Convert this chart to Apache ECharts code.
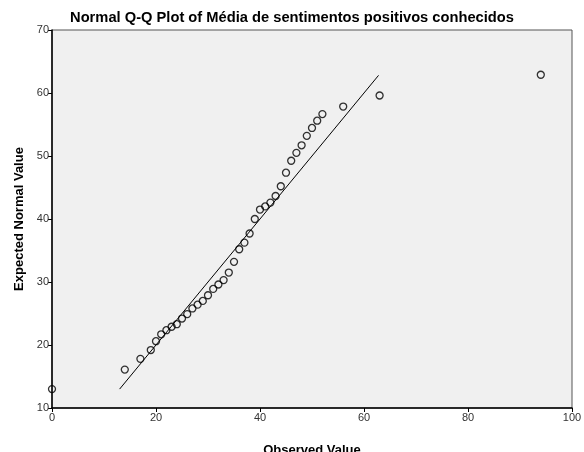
<!DOCTYPE html>
<html>
<head>
<meta charset="utf-8">
<script src="https://cdn.jsdelivr.net/npm/echarts@6/dist/echarts.min.js"></script>
<style>
html,body{margin:0;padding:0;background:#fff;}
#c{width:584px;height:452px;}
</style>
</head>
<body>
<div id="c"></div>
<script>
var observed = [0,14,17,19,20,21,22,23,24,25,26,27,28,29,30,31,32,33,34,35,36,37,38,39,40,41,42,43,44,45,46,47,48,49,50,51,52,56,63,94];
var expected = [13.0,16.1,17.8,19.2,20.6,21.7,22.35,22.9,23.3,24.2,24.9,25.8,26.4,27.0,27.9,28.9,29.6,30.3,31.5,33.2,35.2,36.25,37.7,40.0,41.5,42.0,42.6,43.65,45.2,47.35,49.25,50.5,51.7,53.2,54.45,55.6,56.65,57.85,59.6,62.9];
var refLineX = [13.0, 62.8];
var refLineY = [13.0, 62.8];
var xTicks = [0,20,40,60,80,100];
var yTicks = [10,20,30,40,50,60,70];

var font = 'Liberation Sans, Arial, sans-serif';
var pts = observed.map(function(v,i){return [v, expected[i]];});
var line = refLineX.map(function(v,i){return [v, refLineY[i]];});

var chart = echarts.init(document.getElementById('c'), null, {renderer:'canvas'});
chart.setOption({
  animation:false,
  backgroundColor:'#ffffff',
  title:{
    text:'Normal Q-Q Plot of Média de sentimentos positivos conhecidos',
    left:'center', top:5,
    textStyle:{fontFamily:font, fontSize:14.7, fontWeight:'bold', color:'#000'}
  },
  grid:{left:52, right:12, top:30, bottom:44, show:true, backgroundColor:'#f0f0f0', borderColor:'#555', borderWidth:1, containLabel:false, outerBoundsMode:'none'},
  xAxis:{
    type:'value', min:xTicks[0], max:xTicks[xTicks.length-1], interval:20,
    name:'Observed Value', nameLocation:'middle', nameGap:36,
    nameTextStyle:{fontFamily:font, fontSize:13, fontWeight:'bold', color:'#000'},
    axisLine:{show:true, lineStyle:{color:'#000', width:1.5}},
    axisTick:{show:true, length:4, lineStyle:{color:'#000'}},
    axisLabel:{fontFamily:font, fontSize:11, color:'#333', margin:4},
    splitLine:{show:false}
  },
  yAxis:{
    type:'value', min:yTicks[0], max:yTicks[yTicks.length-1], interval:10,
    name:'Expected Normal Value', nameLocation:'middle', nameGap:23,
    nameTextStyle:{fontFamily:font, fontSize:13, fontWeight:'bold', color:'#000'},
    axisLine:{show:true, lineStyle:{color:'#000', width:1.5}},
    axisTick:{show:true, length:4, lineStyle:{color:'#000'}},
    axisLabel:{fontFamily:font, fontSize:11, color:'#333', margin:3},
    splitLine:{show:false}
  },
  series:[
    {type:'line', data:line, symbol:'none', lineStyle:{color:'#000', width:1}, z:2},
    {type:'scatter', data:pts, symbol:'circle', symbolSize:7,
     itemStyle:{color:'rgba(0,0,0,0)', borderColor:'#000', borderWidth:1.3}, z:3}
  ]
});
</script>
</body>
</html>
